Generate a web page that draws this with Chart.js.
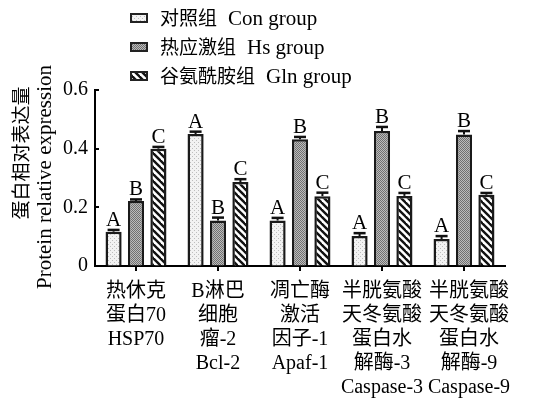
<!DOCTYPE html>
<html><head><meta charset="utf-8">
<script src="https://cdn.jsdelivr.net/npm/chart.js@4/dist/chart.umd.min.js"></script>
<style>html,body{margin:0;padding:0;background:#fff;}</style>
</head><body>
<canvas id="c" width="535" height="405"></canvas>
<script>
// Protein expression by treatment group
const categories = [
  ['热休克', '蛋白70', 'HSP70'],
  ['B淋巴', '细胞', '瘤-2', 'Bcl-2'],
  ['凋亡酶', '激活', '因子-1', 'Apaf-1'],
  ['半胱氨酸', '天冬氨酸', '蛋白水', '解酶-3', 'Caspase-3'],
  ['\u2002半胱氨酸', '\u2002天冬氨酸', '\u2002蛋白水', '\u2002解酶-9', '\u2002Caspase-9']
];
const groupLabels = [['对照组', 'Con group'], ['热应激组', 'Hs group'], ['谷氨酰胺组', 'Gln group']];
const conValues = [0.117, 0.45, 0.155, 0.102, 0.092];
const hsValues  = [0.222, 0.155, 0.432, 0.46, 0.448];
const glnValues = [0.40, 0.286, 0.238, 0.239, 0.243];
const conErr = [0.006, 0.008, 0.009, 0.01, 0.01];
const hsErr  = [0.005, 0.01, 0.008, 0.014, 0.012];
const glnErr = [0.006, 0.01, 0.012, 0.01, 0.006];
const conSig = ['A', 'A', 'A', 'A', 'A'];
const hsSig  = ['B', 'B', 'B', 'B', 'B'];
const glnSig = ['C', 'C', 'C', 'C', 'C'];
const yTicks = [0, 0.2, 0.4, 0.6];
const yTitle = ['蛋白相对表达量', 'Protein relative expression'];

const LATIN = '"Liberation Serif", "Times New Roman", serif';
const FONT = '"Liberation Serif", "Times New Roman", "Noto Sans CJK SC", serif';
const CJK = '"Noto Sans CJK SC", sans-serif';

function makeTile(w, h, draw) {
  const t = document.createElement('canvas');
  t.width = w; t.height = h;
  draw(t.getContext('2d'), w, h);
  return document.createElement('canvas').getContext('2d').createPattern(t, 'repeat');
}
// light stipple
const conFill = makeTile(4, 4, (g) => {
  g.fillStyle = '#f2f2f2'; g.fillRect(0, 0, 4, 4);
  g.fillStyle = '#bdbdbd'; g.fillRect(0, 0, 1, 1); g.fillRect(2, 2, 1, 1);
});
// dense dark checker
const hsFill = makeTile(2, 2, (g) => {
  g.fillStyle = '#bcbcbc'; g.fillRect(0, 0, 2, 2);
  g.fillStyle = '#707070'; g.fillRect(0, 0, 1, 1); g.fillRect(1, 1, 1, 1);
});
// back-slash hatching
const glnFill = makeTile(7, 7, (g, w, h) => {
  g.fillStyle = '#fff'; g.fillRect(0, 0, w, h);
  g.strokeStyle = '#111'; g.lineWidth = 2.4;
  for (const o of [-7, 0, 7]) {
    g.beginPath(); g.moveTo(o - 1, -1); g.lineTo(o + w + 1, h + 1); g.stroke();
  }
});
const fills = [conFill, hsFill, glnFill];
const errs = [conErr, hsErr, glnErr];
const sigs = [conSig, hsSig, glnSig];

const decor = {
  id: 'decor',
  afterDatasetsDraw(chart) {
    const ctx = chart.ctx, y = chart.scales.y;
    ctx.save();
    chart.data.datasets.forEach((ds, di) => {
      const meta = chart.getDatasetMeta(di);
      meta.data.forEach((bar, i) => {
        const v = ds.data[i];
        const yTop = y.getPixelForValue(v + errs[di][i]);
        const yBar = y.getPixelForValue(v);
        ctx.strokeStyle = '#111'; ctx.lineWidth = 2;
        ctx.beginPath(); ctx.moveTo(bar.x, yBar); ctx.lineTo(bar.x, yTop); ctx.stroke();
        ctx.lineWidth = 2.5;
        ctx.beginPath(); ctx.moveTo(bar.x - 6, yTop); ctx.lineTo(bar.x + 6, yTop); ctx.stroke();
        ctx.fillStyle = '#000';
        ctx.font = '21px ' + LATIN;
        ctx.textAlign = 'center'; ctx.textBaseline = 'alphabetic';
        ctx.fillText(sigs[di][i], bar.x, yTop - 4);
      });
    });
    ctx.restore();
  },
  afterDraw(chart) {
    const ctx = chart.ctx, ca = chart.chartArea, y = chart.scales.y;
    ctx.save();
    // inward y ticks
    ctx.strokeStyle = '#000'; ctx.lineWidth = 2;
    yTicks.forEach(v => {
      if (v === 0) return;
      const py = Math.round(y.getPixelForValue(v));
      ctx.beginPath(); ctx.moveTo(ca.left, py); ctx.lineTo(ca.left + 4, py); ctx.stroke();
    });
    // legend
    ctx.textAlign = 'left'; ctx.textBaseline = 'middle';
    groupLabels.forEach((lab, di) => {
      const cy = 18 + di * 29;
      ctx.fillStyle = fills[di];
      ctx.fillRect(131, cy - 4, 16, 8);
      ctx.strokeStyle = '#222'; ctx.lineWidth = 2;
      ctx.strokeRect(131, cy - 4, 16, 8);
      ctx.fillStyle = '#000';
      ctx.font = '19px ' + CJK;
      ctx.fillText(lab[0], 160, cy);
      const w = ctx.measureText(lab[0]).width;
      ctx.font = '21px ' + LATIN;
      ctx.fillText(lab[1], 160 + w + 11, cy + 1);
    });
    // y-axis title, two rotated lines
    ctx.textAlign = 'center'; ctx.textBaseline = 'middle';
    ctx.font = '19px ' + CJK;
    ctx.save(); ctx.translate(21, 153); ctx.rotate(-Math.PI / 2);
    ctx.fillText(yTitle[0], 0, 0); ctx.restore();
    ctx.font = '21px ' + LATIN;
    ctx.save(); ctx.translate(45, 177); ctx.rotate(-Math.PI / 2);
    ctx.fillText(yTitle[1], 0, 0); ctx.restore();
    ctx.restore();
  }
};

const barStyle = { borderColor: '#1a1a1a', borderWidth: 2.5, categoryPercentage: 0.82, barPercentage: 0.72 };

new Chart(document.getElementById('c'), {
  type: 'bar',
  data: {
    labels: categories,
    datasets: [
      Object.assign({ label: groupLabels[0].join(' '), data: conValues, backgroundColor: conFill }, barStyle),
      Object.assign({ label: groupLabels[1].join(' '), data: hsValues, backgroundColor: hsFill }, barStyle),
      Object.assign({ label: groupLabels[2].join(' '), data: glnValues, backgroundColor: glnFill }, barStyle)
    ]
  },
  options: {
    responsive: false,
    animation: false,
    devicePixelRatio: 1,
    layout: { padding: { top: 90, right: 30, left: 0, bottom: 0 } },
    plugins: { legend: { display: false }, tooltip: { enabled: false } },
    scales: {
      x: {
        grid: { display: true, drawOnChartArea: false, offset: false, tickLength: 5, color: '#000', lineWidth: 2 },
        border: { color: '#000', width: 2 },
        ticks: { font: { family: FONT, size: 20, lineHeight: 1.2 }, color: '#000', maxRotation: 0, autoSkip: false, padding: 9 },
        afterFit(s) { s.height = 139; }
      },
      y: {
        min: 0, max: 0.6,
        afterBuildTicks(s) { s.ticks = yTicks.map(v => ({ value: v })); },
        ticks: { font: { family: FONT, size: 20 }, color: '#000', padding: 7,
                 callback: v => (v === 0 ? '0' : v.toFixed(1)) },
        grid: { display: true, drawOnChartArea: false, drawTicks: false },
        border: { color: '#000', width: 2 },
        afterFit(s) { s.width = 95; }
      }
    }
  },
  plugins: [decor]
});
</script>
</body></html>
